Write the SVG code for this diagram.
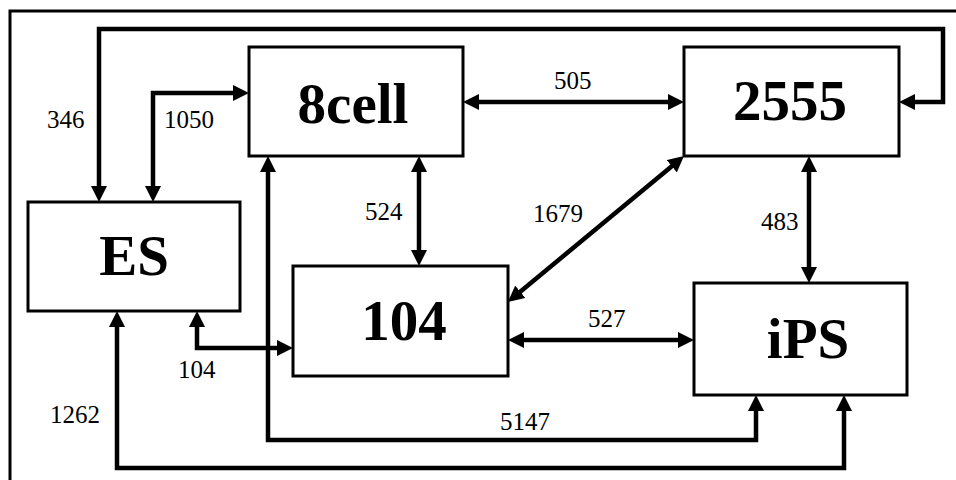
<svg xmlns="http://www.w3.org/2000/svg" width="956" height="480" viewBox="0 0 956 480">
<style>
.box{fill:#fff;stroke:#000;stroke-width:3}
.node{font-family:"Liberation Serif","Times New Roman",serif;font-weight:bold;font-size:57px;text-anchor:middle;fill:#000}
.lbl{font-family:"Liberation Serif","Times New Roman",serif;font-size:25px;fill:#000}
.c{fill:none;stroke:#000;stroke-width:4.5;marker-start:url(#ah);marker-end:url(#ah)}
</style>
<defs>
<marker id="ah" markerUnits="userSpaceOnUse" markerWidth="16" markerHeight="16" viewBox="0 0 16 16" refX="4" refY="8" orient="auto-start-reverse">
<path d="M0,0 L16,8 L0,16 z" fill="#000"/>
</marker>
</defs>
<rect width="956" height="480" fill="#fff"/>
<path d="M10,480 V11 H956" fill="none" stroke="#000" stroke-width="3"/>
<g id="connectors">
<path class="c" d="M99,190 V29 H943 V102 H911"/>
<path class="c" d="M153,190 V93 H237"/>
<path class="c" d="M475,102 H672"/>
<path class="c" d="M419,168 V254"/>
<path class="c" d="M517.2,294.3 L674.8,163.7"/>
<path class="c" d="M809,168 V271"/>
<path class="c" d="M520,340 H682"/>
<path class="c" d="M197,323 V348 H281"/>
<path class="c" d="M268,168 V440 H756 V407"/>
<path class="c" d="M117,323 V468 H844 V407"/>
</g>
<g id="labels">
<text class="lbl" x="47" y="128">346</text>
<text class="lbl" x="164" y="128">1050</text>
<text class="lbl" x="554" y="89">505</text>
<text class="lbl" x="365" y="220">524</text>
<text class="lbl" x="533" y="222">1679</text>
<text class="lbl" x="761" y="230">483</text>
<text class="lbl" x="588" y="327">527</text>
<text class="lbl" x="178" y="378">104</text>
<text class="lbl" x="50" y="423">1262</text>
<text class="lbl" x="500" y="430">5147</text>
</g>
<g id="ES"><rect class="box" x="28" y="202" width="212" height="109"/><text class="node" x="134" y="275">ES</text></g>
<g id="n8cell"><rect class="box" x="249" y="47" width="214" height="109"/><text class="node" x="353" y="123">8cell</text></g>
<g id="n2555"><rect class="box" x="684" y="47" width="215" height="109"/><text class="node" x="790" y="120">2555</text></g>
<g id="n104"><rect class="box" x="293" y="266" width="215" height="110"/><text class="node" x="404" y="340">104</text></g>
<g id="iPS"><rect class="box" x="694" y="283" width="213" height="112"/><text class="node" x="808" y="358">iPS</text></g>
</svg>
